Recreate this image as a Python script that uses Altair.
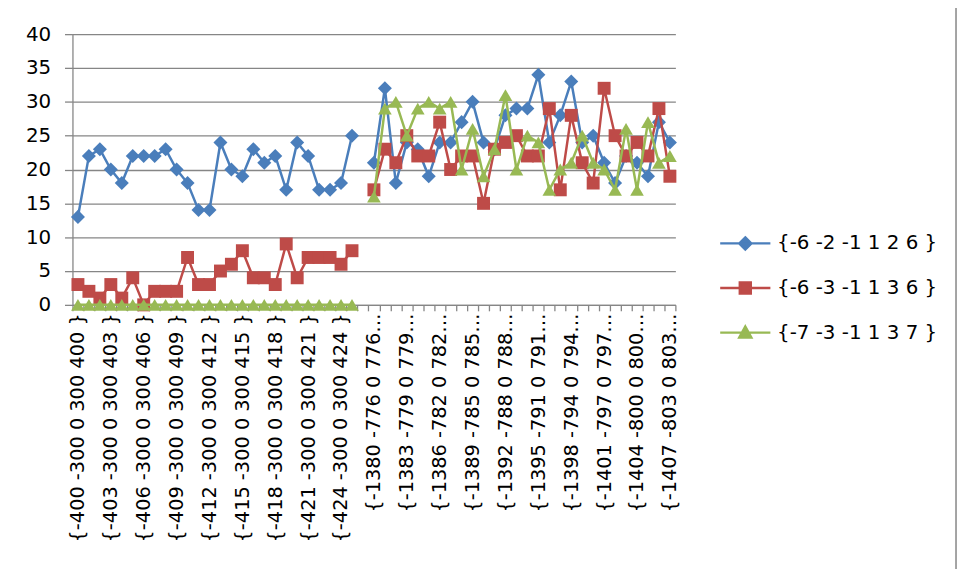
import json
import altair as alt
import pandas as pd

SERIES = ["{-6 -2 -1 1 2 6 }", "{-6 -3 -1 1 3 6 }", "{-7 -3 -1 1 3 7 }"]
COLORS = ["#4A7EBB", "#BE4B48", "#98B954"]
SHAPES = ["diamond", "square", "triangle-up"]
SIZES = [200, 170, 190]

# shown tick labels (every third category)
TICK_LABELS = [
    "{-400 -300 0 300 400 }", "{-403 -300 0 300 403 }", "{-406 -300 0 300 406 }",
    "{-409 -300 0 300 409 }", "{-412 -300 0 300 412 }", "{-415 -300 0 300 415 }",
    "{-418 -300 0 300 418 }", "{-421 -300 0 300 421 }", "{-424 -300 0 300 424 }",
    "{-1380 -776 0 776\u2026", "{-1383 -779 0 779\u2026", "{-1386 -782 0 782\u2026",
    "{-1389 -785 0 785\u2026", "{-1392 -788 0 788\u2026", "{-1395 -791 0 791\u2026",
    "{-1398 -794 0 794\u2026", "{-1401 -797 0 797\u2026", "{-1404 -800 0 800\u2026",
    "{-1407 -803 0 803\u2026",
]
N_CATEGORIES = 55
GROUP_B_START = 27

BLUE_A = [13, 22, 23, 20, 18, 22, 22, 22, 23, 20, 18, 14, 14, 24, 20, 19, 23, 21, 22, 17, 24, 22, 17, 17, 18, 25]
RED_A = [3, 2, 1, 3, 1, 4, 0, 2, 2, 2, 7, 3, 3, 5, 6, 8, 4, 4, 3, 9, 4, 7, 7, 7, 6, 8]
GREEN_A = [0, 0, 0, 0, 0, 0, 0, 0, 0, 0, 0, 0, 0, 0, 0, 0, 0, 0, 0, 0, 0, 0, 0, 0, 0, 0]

BLUE_B = [21, 32, 18, 24, 23, 19, 24, 24, 27, 30, 24, 23, 28, 29, 29, 34, 24, 28, 33, 24, 25, 21, 18, 22, 21, 19, 27, 24]
RED_B = [17, 23, 21, 25, 22, 22, 27, 20, 22, 22, 15, 23, 24, 25, 22, 22, 29, 17, 28, 21, 18, 32, 25, 22, 24, 22, 29, 19]
GREEN_B = [16, 29, 30, 25, 29, 30, 29, 30, 20, 26, 19, 23, 31, 20, 25, 24, 17, 20, 21, 25, 21, 20, 17, 26, 17, 27, 21, 22]

rows = []
for s, a, b in zip(SERIES, [BLUE_A, RED_A, GREEN_A], [BLUE_B, RED_B, GREEN_B]):
    for i, v in enumerate(a):
        rows.append({"idx": i, "seg": 0, "series": s, "value": v})
    for j, v in enumerate(b):
        rows.append({"idx": GROUP_B_START + j, "seg": 1, "series": s, "value": v})
df = pd.DataFrame(rows)

FONT = "DejaVu Sans"
GRAY = "#868686"

label_arr = "[" + ",".join(json.dumps(t) for t in TICK_LABELS) + "]"
x_enc = alt.X(
    "idx:O",
    bandPosition=0.5,
    scale=alt.Scale(type="band", domain=list(range(N_CATEGORIES)), paddingInner=0, paddingOuter=0),
    axis=alt.Axis(
        title=None, grid=False, labelAngle=270, labelAlign="right", labelBaseline="middle",
        labelExpr=f"datum.value % 3 == 0 ? {label_arr}[datum.value / 3] : ''",
        tickBand="extent", tickSize=6, labelPadding=2, labelFont=FONT, labelFontSize=19.5,
        labelColor="#000000", domainColor=GRAY, tickColor=GRAY, domainWidth=1.3, tickWidth=1.3,
        labelOverlap=False, labelLimit=400,
    ),
)
y_enc = alt.Y(
    "value:Q",
    scale=alt.Scale(domain=[0, 40], nice=False, zero=True),
    axis=alt.Axis(
        title=None, values=[0, 5, 10, 15, 20, 25, 30, 35, 40], grid=True, gridColor=GRAY,
        gridWidth=1.3, domainColor=GRAY, tickColor=GRAY, domainWidth=1.3, tickWidth=1.3,
        tickSize=8, labelPadding=14, labelFont=FONT, labelFontSize=20, labelColor="#000000",
    ),
)

base = alt.Chart(df)
layers = []
for s, c, shp, sz in zip(SERIES, COLORS, SHAPES, SIZES):
    sub = base.transform_filter(alt.datum.series == s)
    layers.append(sub.mark_line(color=c, strokeWidth=2.5).encode(x=x_enc, y=y_enc, detail="seg:N"))
    layers.append(sub.mark_point(filled=True, shape=shp, size=sz, color=c, opacity=1).encode(x=x_enc, y=y_enc))

T = 4.6
PATHS = [
    f"M -{T} 0 L {T} 0 M 0 -1.1 L 1.1 0 L 0 1.1 L -1.1 0 Z",
    f"M -{T} 0 L {T} 0 M -1 -1 L 1 -1 L 1 1 L -1 1 Z",
    f"M -{T} 0 L {T} 0 M 0 -1.1 L 1.1 0.9 L -1.1 0.9 Z",
]
leg_df = pd.DataFrame({"series": SERIES})
legend_layer = alt.Chart(leg_df).mark_point(filled=True, opacity=1, strokeWidth=2.5).encode(
    x=alt.value(0),
    y=alt.value(-3000),
    fill=alt.Fill("series:N", scale=alt.Scale(domain=SERIES, range=COLORS), legend=alt.Legend(title=None)),
    stroke=alt.Stroke("series:N", scale=alt.Scale(domain=SERIES, range=COLORS), legend=alt.Legend(title=None)),
    shape=alt.Shape("series:N", scale=alt.Scale(domain=SERIES, range=PATHS), legend=alt.Legend(title=None)),
)

border = alt.Chart(alt.Data(values=[{}])).mark_rect(
    fill="transparent", stroke=GRAY, strokeWidth=1.5
).encode(x=alt.value(-80), x2=alt.value(891), y=alt.value(-40), y2=alt.value(700))

chart = alt.layer(border, *layers, legend_layer).properties(
    width=608,
    height=273,
    autosize=alt.AutoSizeParams(type="none"),
    padding={"left": 65, "top": 24, "right": 285, "bottom": 264},
).configure_view(stroke=None).configure_legend(
    orient="none", legendX=668.5, legendY=201, labelFont=FONT, labelFontSize=20,
    labelColor="#000000", symbolSize=121, symbolStrokeWidth=2.5, rowPadding=22,
    labelOffset=22, padding=0, labelLimit=400,
)

chart.save("out.html", embed_options={"renderer": "svg", "actions": False})
